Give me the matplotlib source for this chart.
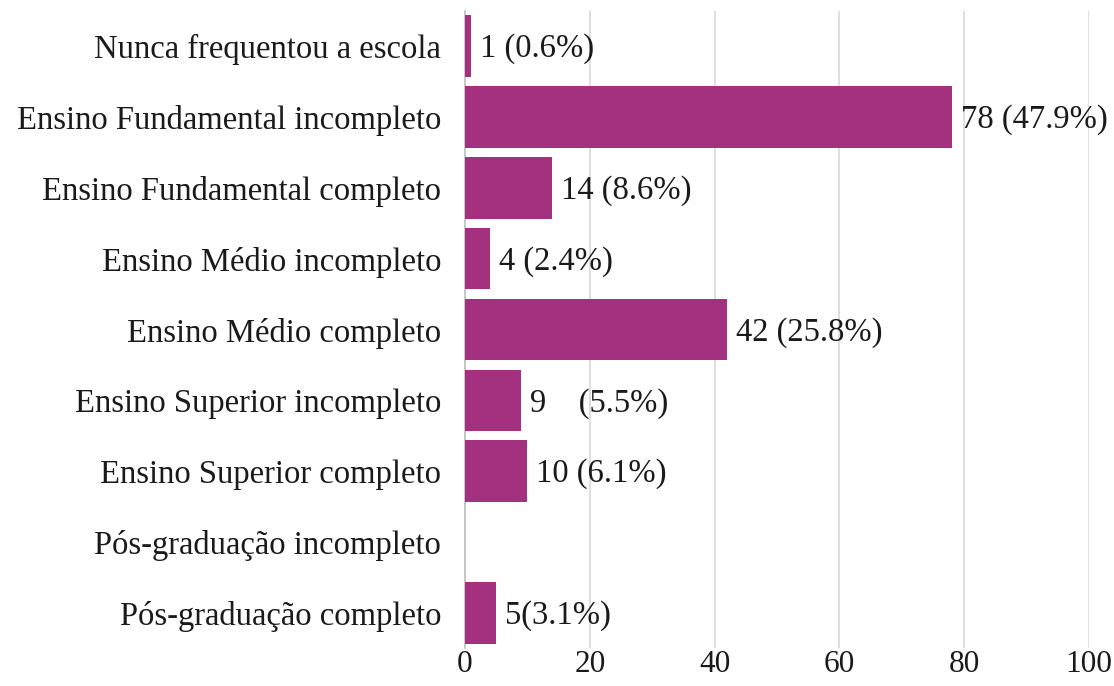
import matplotlib
matplotlib.use('Agg')
import matplotlib.pyplot as plt

categorias = ['Nunca frequentou a escola',
              'Ensino Fundamental incompleto',
              'Ensino Fundamental completo',
              'Ensino Médio incompleto',
              'Ensino Médio completo',
              'Ensino Superior incompleto',
              'Ensino Superior completo',
              'Pós-graduação incompleto',
              'Pós-graduação completo']
valores = [1, 78, 14, 4, 42, 9, 10, 0, 5]
rotulos = ['1 (0.6%)', '78 (47.9%)', '14 (8.6%)', '4 (2.4%)', '42 (25.8%)',
           '9    (5.5%)', '10 (6.1%)', '', '5(3.1%)']
xticks = [0, 20, 40, 60, 80, 100]

plt.rcParams['font.family'] = ['Liberation Serif', 'DejaVu Serif']

fig = plt.figure(figsize=(11.14, 6.86), dpi=100)
ax = fig.add_axes([0.4174, 0.0548, 0.5601, 0.9297])

pos = list(range(len(categorias)))
ax.barh(pos, valores, height=0.87, color='#A33180', zorder=3)

# rotulos ao lado das barras
for p, v, r in zip(pos, valores, rotulos):
    ax.annotate(r, xy=(v, p), xytext=(6.5, -2), textcoords='offset points',
                va='center', ha='left', fontsize=23.5, color='#1a1a1a')

ax.set_yticks(pos)
ax.set_yticklabels(categorias, fontsize=23.5, color='#1a1a1a')
ax.set_ylim(len(categorias) - 0.5, -0.5)
ax.set_xlim(0, 100)
ax.set_xticks(xticks)
ax.set_xticklabels([str(t) for t in xticks], fontsize=22.5, color='#1a1a1a')
ax.tick_params(axis='x', length=0, pad=1)
ax.tick_params(axis='y', length=0, pad=17)

ax.grid(axis='x', color='#D9D9D9', linewidth=1.2, zorder=0)
for s in ['top', 'right', 'bottom']:
    ax.spines[s].set_visible(False)
ax.spines['left'].set_color('#BFBFBF')
ax.spines['left'].set_linewidth(1.2)

fig.savefig('out.png', dpi=100)
